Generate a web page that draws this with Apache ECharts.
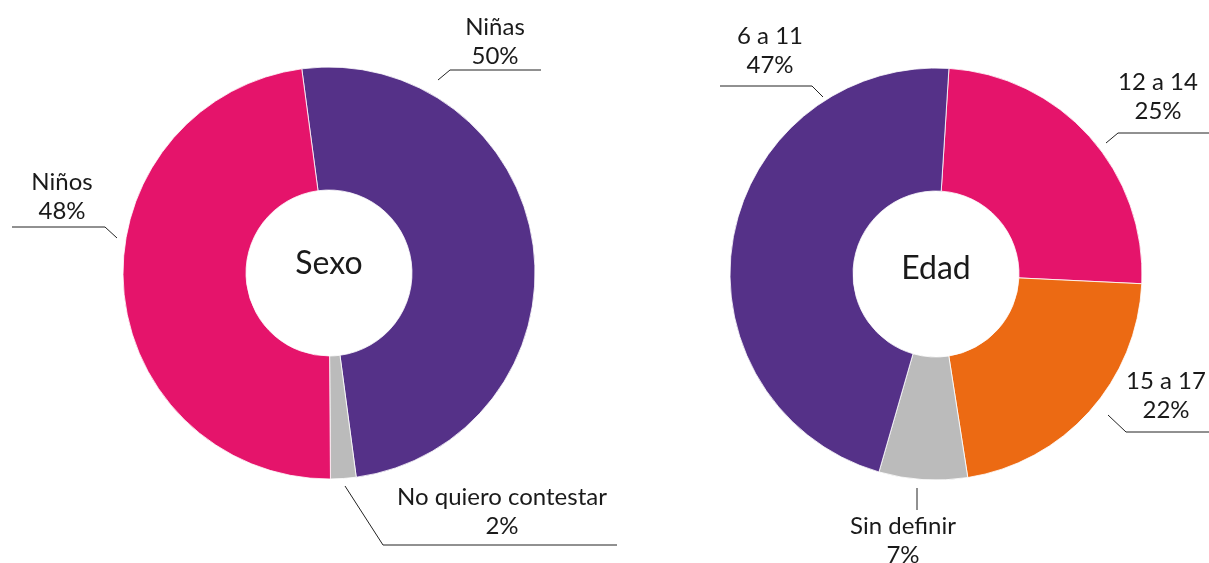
<!DOCTYPE html>
<html>
<head>
<meta charset="utf-8">
<script src="https://cdn.jsdelivr.net/npm/echarts@6/dist/echarts.min.js"></script>
<style>
  html, body { margin: 0; padding: 0; background: #fff; }
  #chart { width: 1209px; height: 563px; }
</style>
</head>
<body>
<div id="chart"></div>
<script>
// Sexo (clockwise from the top-left boundary)
const sexoNames = ['Niñas', 'No quiero contestar', 'Niños']
const sexoValues = [50, 2, 48]
const sexoColors = ['#553188', '#BBBBBB', '#E5146B']

// Edad (clockwise from just right of the top)
const edadNames = ['12 a 14', '15 a 17', 'Sin definir', '6 a 11']
const edadValues = [25, 22, 7, 47]
const edadColors = ['#E5146B', '#EC6A13', '#BBBBBB', '#553188']

const fontFamily = 'Lato, "DejaVu Sans", sans-serif'
const sexoCenter = [329, 273]
const edadCenter = [936, 274]

// leader lines and text anchors, offsets from the pie centre (px)
const sexoGuides = [
  { line: [[109, -193], [121, -203], [212, -203]], text: [166, -202] },
  { line: [[16, 213], [54, 272], [288, 272]], text: [173, 268] },
  { line: [[-212, -35], [-224, -46], [-317, -46]], text: [-267, -47] },
]
const edadGuides = [
  { line: [[170, -131], [182, -141], [273, -141]], text: [222, -148] },
  { line: [[172, 141], [190, 158], [273, 158]], text: [230, 151] },
  { line: [[-19, 214], [-19, 225], [-19, 236]], text: [-33, 296] },
  { line: [[-113, -177], [-124, -188], [-216, -188]], text: [-166, -194] },
]

const makeLayout = (center, guides) => (params) => {
  const g = guides[params.dataIndex]
  return {
    x: center[0] + g.text[0],
    y: center[1] + g.text[1],
    align: 'center',
    verticalAlign: 'bottom',
    labelLinePoints: g.line.map((p) => [center[0] + p[0], center[1] + p[1]]),
  }
}

const pieSeries = (names, values, colors, center, startAngle, guides) => ({
  type: 'pie',
  center,
  radius: [83, 206],
  startAngle,
  clockwise: true,
  avoidLabelOverlap: false,
  data: names.map((name, i) => ({ name, value: values[i], itemStyle: { color: colors[i] } })),
  itemStyle: { borderColor: '#fff', borderWidth: 0.8 },
  label: {
    show: true,
    position: 'outside',
    formatter: '{b}\n{c}%',
    fontFamily,
    fontSize: 24,
    lineHeight: 29,
    color: '#1a1a1a',
    align: 'center',
  },
  labelLine: {
    show: true,
    length: 10,
    length2: 10,
    lineStyle: { color: '#222', width: 1 },
  },
  labelLayout: makeLayout(center, guides),
  emphasis: { disabled: true },
})

const centerTitle = (text, center, top) => ({
  text,
  left: center[0],
  top,
  padding: 0,
  textAlign: 'center',
  textVerticalAlign: 'middle',
  textStyle: { fontFamily, fontSize: 32, fontWeight: 'normal', color: '#1a1a1a' },
})

const chart = echarts.init(document.getElementById('chart'))
chart.setOption({
  animation: false,
  title: [
    centerTitle('Sexo', sexoCenter, 264),
    centerTitle('Edad', edadCenter, 269),
  ],
  series: [
    pieSeries(sexoNames, sexoValues, sexoColors, sexoCenter, 97.6, sexoGuides),
    pieSeries(edadNames, edadValues, edadColors, edadCenter, 86.4, edadGuides),
  ],
})
</script>
</body>
</html>
